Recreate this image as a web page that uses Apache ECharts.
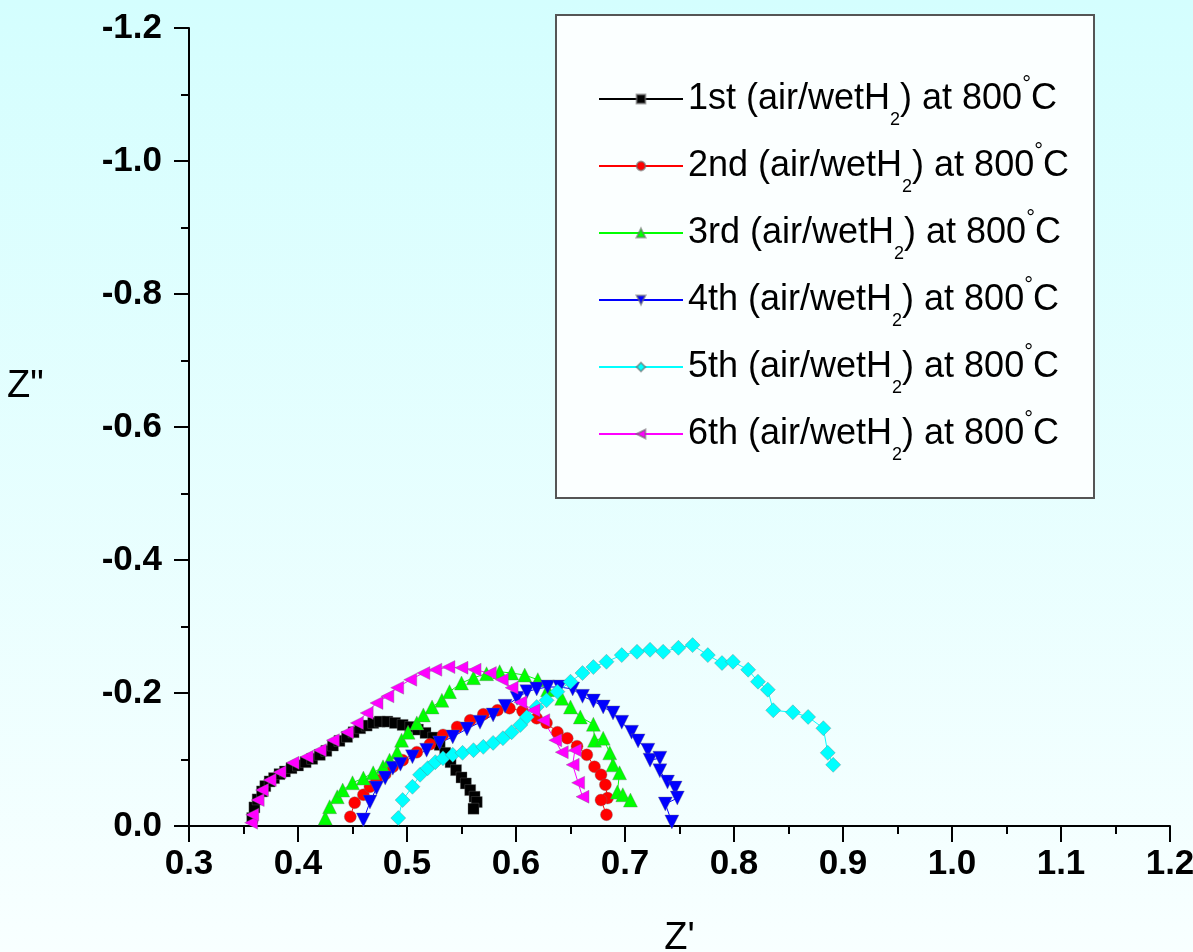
<!DOCTYPE html>
<html>
<head>
<meta charset="utf-8">
<script src="https://cdn.jsdelivr.net/npm/echarts@6/dist/echarts.min.js"></script>
<style>
  html, body { margin: 0; padding: 0; }
  body { background: linear-gradient(#d4fefe, #f8ffff); }
  #main { width: 1193px; height: 952px; }
</style>
</head>
<body>
<div id="main"></div>
<script>
// Nyquist data [Z', Z'']
var run1 = [[0.358,-0.012],[0.360,-0.028],[0.363,-0.040],[0.367,-0.052],[0.370,-0.060],[0.374,-0.067],[0.378,-0.072],
  [0.383,-0.078],[0.388,-0.082],[0.394,-0.087],[0.400,-0.091],[0.407,-0.096],[0.413,-0.101],[0.420,-0.107],
  [0.426,-0.113],[0.432,-0.121],[0.438,-0.128],[0.445,-0.134],[0.451,-0.141],[0.457,-0.147],[0.463,-0.151],
  [0.469,-0.155],[0.475,-0.157],[0.482,-0.157],[0.489,-0.155],[0.496,-0.152],[0.503,-0.149],[0.510,-0.145],
  [0.517,-0.140],[0.524,-0.133],[0.530,-0.122],[0.535,-0.110],[0.540,-0.096],[0.545,-0.084],[0.550,-0.073],
  [0.554,-0.064],[0.558,-0.054],[0.562,-0.044],[0.564,-0.036],[0.561,-0.026]];
var run2 = [[0.448,-0.014],[0.452,-0.035],[0.460,-0.047],[0.466,-0.059],[0.472,-0.069],[0.480,-0.078],[0.487,-0.089],
  [0.496,-0.099],[0.509,-0.111],[0.521,-0.123],[0.533,-0.137],[0.546,-0.149],[0.558,-0.159],[0.570,-0.168],
  [0.583,-0.174],[0.594,-0.177],[0.606,-0.173],[0.619,-0.162],[0.628,-0.155],[0.638,-0.141],[0.647,-0.132],
  [0.656,-0.120],[0.665,-0.107],[0.672,-0.089],[0.678,-0.077],[0.682,-0.062],[0.684,-0.042],[0.678,-0.039],
  [0.683,-0.017]];
var run3 = [[0.425,-0.012],[0.429,-0.029],[0.436,-0.044],[0.441,-0.054],[0.450,-0.065],[0.460,-0.072],[0.469,-0.080],
  [0.478,-0.089],[0.484,-0.099],[0.491,-0.111],[0.495,-0.129],[0.501,-0.141],[0.509,-0.155],[0.515,-0.167],
  [0.523,-0.179],[0.532,-0.189],[0.539,-0.202],[0.550,-0.215],[0.561,-0.223],[0.573,-0.229],[0.585,-0.232],
  [0.596,-0.230],[0.608,-0.227],[0.620,-0.220],[0.629,-0.205],[0.642,-0.192],[0.650,-0.179],[0.659,-0.164],
  [0.671,-0.153],[0.672,-0.129],[0.680,-0.132],[0.686,-0.110],[0.689,-0.092],[0.695,-0.080],[0.693,-0.051],
  [0.698,-0.047],[0.705,-0.039]];
var run4 = [[0.460,-0.009],[0.466,-0.036],[0.472,-0.057],[0.480,-0.072],[0.487,-0.087],[0.494,-0.093],[0.505,-0.104],
  [0.518,-0.114],[0.530,-0.125],[0.542,-0.134],[0.555,-0.146],[0.567,-0.156],[0.579,-0.167],[0.590,-0.180],
  [0.601,-0.192],[0.610,-0.202],[0.619,-0.206],[0.629,-0.209],[0.640,-0.209],[0.652,-0.206],[0.661,-0.195],
  [0.671,-0.188],[0.680,-0.179],[0.689,-0.170],[0.697,-0.156],[0.706,-0.141],[0.712,-0.128],[0.721,-0.114],
  [0.723,-0.099],[0.732,-0.102],[0.732,-0.083],[0.739,-0.066],[0.746,-0.057],[0.748,-0.042],[0.737,-0.033],
  [0.743,-0.006]];
var run5 = [[0.492,-0.012],[0.496,-0.039],[0.505,-0.059],[0.512,-0.077],[0.519,-0.087],[0.526,-0.096],[0.533,-0.102],
  [0.542,-0.107],[0.551,-0.110],[0.561,-0.114],[0.570,-0.119],[0.579,-0.125],[0.588,-0.132],[0.596,-0.141],
  [0.604,-0.152],[0.610,-0.164],[0.619,-0.179],[0.628,-0.189],[0.638,-0.202],[0.650,-0.217],[0.661,-0.230],
  [0.671,-0.239],[0.683,-0.247],[0.697,-0.257],[0.711,-0.262],[0.723,-0.265],[0.735,-0.262],[0.749,-0.268],
  [0.762,-0.272],[0.776,-0.257],[0.789,-0.245],[0.799,-0.247],[0.813,-0.235],[0.822,-0.217],[0.831,-0.205],
  [0.836,-0.174],[0.854,-0.171],[0.868,-0.164],[0.882,-0.147],[0.886,-0.110],[0.891,-0.092]];
var run6 = [[0.357,-0.005],[0.358,-0.017],[0.363,-0.039],[0.367,-0.054],[0.374,-0.069],[0.383,-0.081],[0.395,-0.095],
  [0.408,-0.104],[0.420,-0.114],[0.432,-0.129],[0.445,-0.141],[0.454,-0.155],[0.463,-0.170],[0.472,-0.185],
  [0.482,-0.195],[0.491,-0.208],[0.503,-0.220],[0.515,-0.230],[0.526,-0.235],[0.538,-0.239],[0.550,-0.238],
  [0.562,-0.235],[0.576,-0.230],[0.587,-0.220],[0.596,-0.208],[0.604,-0.186],[0.616,-0.174],[0.625,-0.159],
  [0.636,-0.129],[0.642,-0.111],[0.654,-0.114],[0.652,-0.092],[0.657,-0.065],[0.661,-0.044]];

var runNames = ['1st', '2nd', '3rd', '4th', '5th', '6th'];
var runData = [run1, run2, run3, run4, run5, run6];
var runColors = ['#000000', '#ff0000', '#00ff00', '#0000ff', '#00ffff', '#ff00ff'];
var runSymbols = ['rect', 'circle', 'triangle', 'triangle', 'diamond', 'triangle'];
var runRotate = [0, 0, 0, 180, 0, 90];
var runSizes = [11, 12, 14, 14, 15, 13];

var chart = echarts.init(document.getElementById('main'));
var font = 'Liberation Sans, Arial, sans-serif';

var series = [];
for (var i = 0; i < runData.length; i++) {
  series.push({
    name: runNames[i],
    type: 'line',
    data: runData[i],
    symbol: runSymbols[i],
    symbolRotate: runRotate[i],
    symbolSize: runSizes[i],
    lineStyle: { color: runColors[i], width: 1 },
    itemStyle: { color: runColors[i], borderColor: 'rgba(110,110,110,0.6)', borderWidth: 0.6 }
  });
}

var option = {
  animation: false,
  backgroundColor: 'transparent',
  grid: { left: 189, right: 23, top: 28, bottom: 126, outerBoundsMode: 'none' },
  xAxis: {
    type: 'value', min: 0.3, max: 1.2, interval: 0.1,
    name: "Z'", nameLocation: 'middle', nameGap: 94,
    nameTextStyle: { fontSize: 38, fontFamily: font, color: '#000' },
    splitLine: { show: false },
    axisLine: { onZero: false, lineStyle: { color: '#000', width: 2 } },
    axisTick: { length: 16, lineStyle: { color: '#000', width: 2 } },
    minorTick: { show: true, splitNumber: 2, length: 8, lineStyle: { color: '#000', width: 2 } },
    axisLabel: { margin: 21, fontSize: 35, fontWeight: 'bold', fontFamily: font, color: '#000',
      formatter: function (v) { return v.toFixed(1); } }
  },
  yAxis: {
    type: 'value', min: -1.2, max: 0, interval: 0.2, inverse: true,
    splitLine: { show: false },
    axisLine: { onZero: false, lineStyle: { color: '#000', width: 2 } },
    axisTick: { length: 15, lineStyle: { color: '#000', width: 2 } },
    minorTick: { show: true, splitNumber: 2, length: 8, lineStyle: { color: '#000', width: 2 } },
    axisLabel: { margin: 27, fontSize: 35, fontWeight: 'bold', fontFamily: font, color: '#000',
      formatter: function (v) { return v.toFixed(1); } }
  },
  legend: {
    orient: 'vertical', left: 593, top: 64,
    itemWidth: 84, itemHeight: 11, itemGap: 7,
    formatter: function (name) {
      return name + ' (air/wetH{sub|2}) at 800{sup|°}C';
    },
    textStyle: {
      fontSize: 36, lineHeight: 60, fontFamily: font, color: '#000',
      rich: {
        sub: { fontSize: 18, lineHeight: 18, verticalAlign: 'bottom', fontFamily: font, color: '#000' },
        sup: { fontSize: 22, verticalAlign: 'top', padding: [5, 0, 0, 0], fontFamily: font, color: '#000' }
      }
    }
  },
  graphic: [
    { type: 'rect', left: 555, top: 14, z: -1,
      shape: { width: 538, height: 483 },
      style: { fill: '#fbffff', stroke: '#555', lineWidth: 2 } },
    { type: 'text', left: 7, top: 368,
      style: { text: 'Z"', font: '38px Liberation Sans', fill: '#000' } }
  ],
  series: series
};
chart.setOption(option);
</script>
</body>
</html>
